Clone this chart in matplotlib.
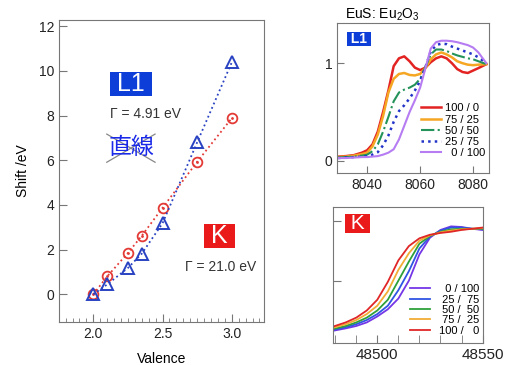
import matplotlib
matplotlib.use('Agg')
import matplotlib.pyplot as plt
from matplotlib.ticker import MultipleLocator

plt.rcParams['font.family'] = ['Liberation Sans', 'Noto Sans CJK JP', 'DejaVu Sans']
plt.rcParams['mathtext.fontset'] = 'custom'
plt.rcParams['mathtext.rm'] = 'Liberation Sans'
plt.rcParams['axes.edgecolor'] = '#777777'
plt.rcParams['xtick.color'] = '#777777'
plt.rcParams['ytick.color'] = '#777777'
plt.rcParams['xtick.labelcolor'] = '#222222'
plt.rcParams['ytick.labelcolor'] = '#222222'

# edge shift vs. valence
valence = [2.0, 2.1, 2.25, 2.35, 2.5, 2.75, 3.0]
shift_k = [0.0, 0.8, 1.85, 2.62, 3.87, 5.93, 7.88]
shift_l1 = [0.0, 0.44, 1.18, 1.82, 3.18, 6.8, 10.38]

# Eu L1 edge spectra, EuS : Eu2O3 mixtures
energy_l1 = [8029, 8032, 8035, 8038, 8040, 8042, 8044, 8046, 8048, 8050, 8052, 8054, 8056, 8058,
             8060, 8062, 8064, 8066, 8068, 8070, 8072, 8074, 8076, 8078, 8080, 8082, 8085]
l1_100_0 = [0.044, 0.05, 0.06, 0.085, 0.11, 0.17, 0.30, 0.50, 0.72, 0.97, 1.05, 1.07, 1.02, 0.955,
            0.93, 0.955, 1.01, 1.05, 1.07, 1.05, 1.00, 0.94, 0.91, 0.90, 0.925, 0.95, 0.99]
l1_75_25 = [0.04, 0.045, 0.055, 0.07, 0.085, 0.15, 0.27, 0.46, 0.70, 0.84, 0.89, 0.90, 0.88, 0.875,
            0.89, 0.95, 1.04, 1.09, 1.11, 1.09, 1.06, 1.02, 1.00, 0.985, 0.98, 0.985, 0.99]
l1_50_50 = [0.035, 0.04, 0.045, 0.055, 0.065, 0.10, 0.17, 0.30, 0.45, 0.61, 0.70, 0.73, 0.75, 0.78,
            0.84, 0.96, 1.09, 1.14, 1.14, 1.125, 1.10, 1.08, 1.065, 1.05, 1.04, 1.02, 0.99]
l1_25_75 = [0.03, 0.035, 0.04, 0.045, 0.05, 0.065, 0.09, 0.16, 0.26, 0.40, 0.51, 0.57, 0.64, 0.72,
            0.82, 0.96, 1.12, 1.185, 1.20, 1.195, 1.17, 1.15, 1.13, 1.11, 1.09, 1.06, 1.00]
l1_0_100 = [0.03, 0.03, 0.035, 0.04, 0.04, 0.045, 0.05, 0.065, 0.085, 0.12, 0.22, 0.36, 0.50, 0.62,
            0.75, 0.95, 1.15, 1.215, 1.23, 1.23, 1.225, 1.215, 1.20, 1.185, 1.16, 1.11, 1.00]

# Eu K edge spectra
energy_k = [48479, 48485, 48490, 48495, 48500, 48505, 48510, 48515, 48520, 48525, 48530, 48535,
            48540, 48545, 48550]
k_100_0 = [0.115, 0.15, 0.19, 0.25, 0.34, 0.49, 0.67, 0.79, 0.855, 0.885, 0.90, 0.91, 0.925, 0.935, 0.945]
k_75_25 = [0.105, 0.135, 0.17, 0.22, 0.29, 0.41, 0.59, 0.73, 0.835, 0.88, 0.905, 0.92, 0.93, 0.935, 0.94]
k_50_50 = [0.095, 0.12, 0.15, 0.19, 0.25, 0.34, 0.50, 0.66, 0.81, 0.875, 0.91, 0.93, 0.935, 0.935, 0.935]
k_25_75 = [0.088, 0.11, 0.135, 0.17, 0.22, 0.29, 0.42, 0.58, 0.77, 0.87, 0.92, 0.945, 0.945, 0.935, 0.93]
k_0_100 = [0.08, 0.10, 0.12, 0.15, 0.20, 0.26, 0.35, 0.50, 0.72, 0.86, 0.925, 0.955, 0.95, 0.935, 0.925]

RED = '#e33a36'
BLUE = '#2942c2'
BOX_BLUE = '#0d3ed8'
BOX_RED = '#ea1a1a'

fig = plt.figure(figsize=(5.1, 3.65), dpi=100)

# ---- shift vs valence ----
ax = fig.add_axes([0.1157, 0.1178, 0.4025, 0.827])
ax.plot(valence, shift_k, ':', color=RED, lw=1.3, marker='o', ms=7, mfc='none', mew=1.3)
ax.plot(valence, shift_k, '.', color=RED, ms=2)
ax.plot(valence, shift_l1, ':', color=BLUE, lw=1.3, marker='^', ms=8, mfc='none', mew=1.4)
ax.set_xlim(1.752, 3.235)
ax.set_ylim(-1.24, 12.27)
ax.set_xticks([2.0, 2.5, 3.0])
ax.xaxis.set_minor_locator(MultipleLocator(0.05))
ax.set_yticks(range(0, 13, 2))
ax.tick_params(direction='in', which='major', length=6, labelsize=10)
ax.tick_params(direction='in', which='minor', length=3)
ax.set_xlabel('Valence', fontsize=10)
ax.set_ylabel('Shift /eV', fontsize=10)
ax.xaxis.set_label_coords(0.5, -0.098)
ax.yaxis.set_label_coords(-0.14, 0.5)

ax.text(2.272, 9.43, ' L1 ', color='white', fontsize=18, ha='center', va='center',
        bbox=dict(boxstyle='square,pad=0', fc=BOX_BLUE, ec='none'))
ax.text(2.374, 8.06, '\u0393 = 4.91 eV', fontsize=10, ha='center', va='center', color='#333333')
ax.text(2.277, 6.57, '直線', fontsize=16.5, color='#1a2ae8', ha='center', va='center')
ax.plot([2.097, 2.446], [7.17, 5.91], color='#888888', lw=0.9)
ax.plot([2.097, 2.446], [5.91, 7.17], color='#888888', lw=0.9)
ax.text(2.912, 2.60, ' K ', color='white', fontsize=18, ha='center', va='center',
        bbox=dict(boxstyle='square,pad=0', fc=BOX_RED, ec='none'))
ax.text(2.923, 1.23, '\u0393 = 21.0 eV', fontsize=10, ha='center', va='center', color='#333333')

# ---- L1 spectra ----
ax1 = fig.add_axes([0.6608, 0.526, 0.298, 0.412])
ax1.plot(energy_l1, l1_100_0, '-', color='#e32222', lw=1.8, label='100 / 0')
ax1.plot(energy_l1, l1_75_25, '-', color='#f5a623', lw=1.8, label='75 / 25')
ax1.plot(energy_l1, l1_50_50, '-.', color='#23935a', lw=1.5, label='50 / 50')
ax1.plot(energy_l1, l1_25_75, ':', color='#2233c8', lw=1.8, label='25 / 75')
ax1.plot(energy_l1, l1_0_100, '-', color='#b67cf2', lw=1.5, label='  0 / 100')
ax1.set_xlim(8028.6, 8086)
ax1.set_ylim(-0.123, 1.415)
ax1.set_xticks([8040, 8060, 8080])
ax1.set_yticks([0, 1])
ax1.tick_params(direction='in', length=5, labelsize=10)
ax1.set_title('EuS: Eu$_2$O$_3$', loc='left', fontsize=10, pad=0, x=0.05)
ax1.text(0.145, 0.89, ' L1 ', transform=ax1.transAxes, color='white', fontsize=10,
         fontweight='bold', ha='center', va='center',
         bbox=dict(boxstyle='square,pad=0', fc=BOX_BLUE, ec='none'))
ax1.legend(loc='upper left', bbox_to_anchor=(0.515, 0.5), frameon=False, fontsize=8,
           handlelength=1.8, handletextpad=0.4, labelspacing=0.11, borderpad=0)

# ---- K spectra ----
ax2 = fig.add_axes([0.6535, 0.0611, 0.294, 0.3726])
k_series = [(k_0_100, '#7436e6', '  0 / 100'), (k_25_75, '#2f55e3', ' 25 /  75'),
            (k_50_50, '#2ea03a', ' 50 /  50'), (k_75_25, '#f2ad34', ' 75 /  25'),
            (k_100_0, '#e02626', '100 /   0')]
for y, c, lab in k_series:
    ax2.plot(energy_k, y, '-', color=c, lw=1.3, label=lab)
ax2.set_xlim(48479.1, 48550.3)
ax2.set_ylim(-0.02, 1.12)
ax2.set_xticks([48500, 48550])
ax2.xaxis.set_minor_locator(MultipleLocator(10))
ax2.set_yticks([0.5, 1.0])
ax2.set_yticklabels([])
ax2.tick_params(direction='in', which='major', length=6, labelsize=11)
ax2.tick_params(direction='in', which='minor', length=6)
ax2.text(0.16, 0.88, ' K ', transform=ax2.transAxes, color='white', fontsize=15,
         ha='center', va='center', bbox=dict(boxstyle='square,pad=0', fc=BOX_RED, ec='none'))
ax2.legend(loc='lower right', bbox_to_anchor=(1.012, 0.012), frameon=False, fontsize=8,
           handlelength=1.8, handletextpad=0.8, labelspacing=0.03, borderpad=0)

fig.savefig('out.png', dpi=100)
